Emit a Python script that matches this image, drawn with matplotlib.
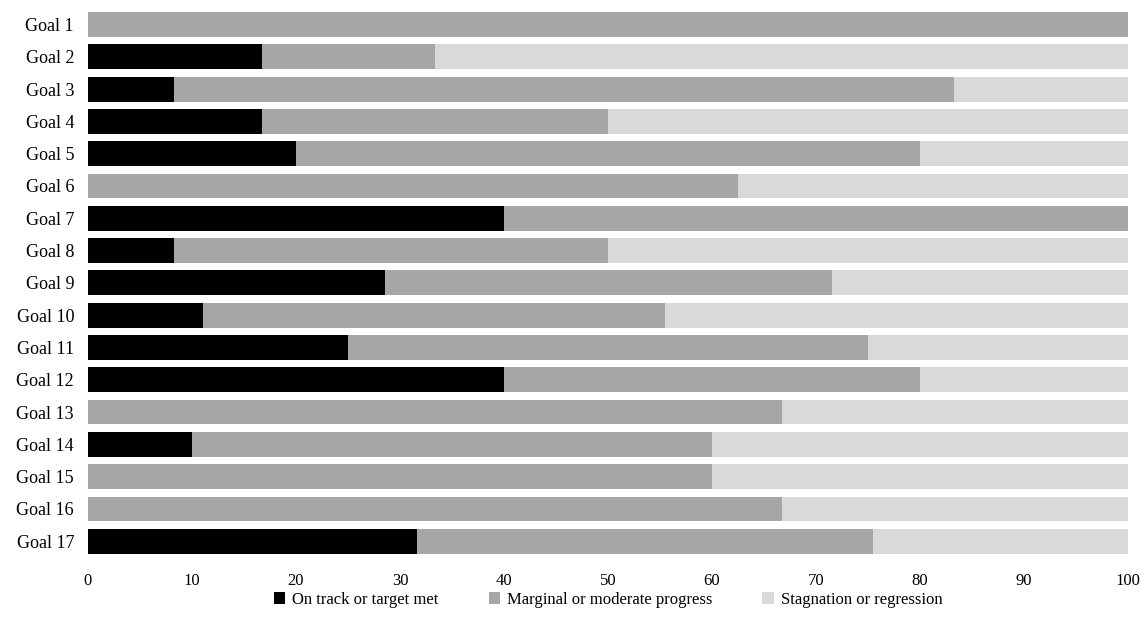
import matplotlib
matplotlib.use("Agg")
import matplotlib.pyplot as plt
from matplotlib.patches import Patch

goals = [f"Goal {i}" for i in range(1, 18)]
on_track = [0, 16.7, 8.3, 16.7, 20, 0, 40, 8.3, 28.6, 11.1, 25, 40, 0, 10, 0, 0, 31.6]
moderate = [100, 16.7, 75, 33.3, 60, 62.5, 60, 41.7, 42.9, 44.4, 50, 40, 66.7, 50, 60, 66.7, 43.9]
stagnation = [0, 66.6, 16.7, 50, 20, 37.5, 0, 50, 28.5, 44.5, 25, 20, 33.3, 40, 40, 33.3, 24.5]
series_names = ["On track or target met", "Marginal or moderate progress", "Stagnation or regression"]
xticks = list(range(0, 101, 10))

colors = ["#000000", "#a6a6a6", "#d9d9d9"]

plt.rcParams['font.family'] = ['Liberation Serif', 'DejaVu Serif']

fig = plt.figure(figsize=(11.42, 6.35), dpi=100)
ax = fig.add_axes([88 / 1142, 1 - 557.4 / 635, (1128 - 88) / 1142, (557.4 - 8.35) / 635])

y = list(range(len(goals)))
left = [0] * len(goals)
for vals, col in zip([on_track, moderate, stagnation], colors):
    ax.barh(y, vals, left=left, height=0.77, color=col, edgecolor='none')
    left = [a + b for a, b in zip(left, vals)]

ax.set_xlim(0, 100)
ax.set_ylim(16.5, -0.5)
ax.set_yticks(y)
ax.set_yticklabels(goals, fontsize=13)
ax.set_xticks(xticks)
ax.set_xticklabels([str(t) for t in xticks], fontsize=12)
ax.tick_params(axis='both', length=0)
ax.tick_params(axis='x', pad=11)
ax.tick_params(axis='y', pad=10)
for s in ax.spines.values():
    s.set_visible(False)

handles = [Patch(facecolor=c, edgecolor='none') for c in colors]
fig.legend(handles, series_names, loc='center', bbox_to_anchor=(608 / 1142, 1 - 600 / 635),
           ncol=3, frameon=False, fontsize=12, handlelength=0.7, handleheight=0.7,
           handletextpad=0.4, columnspacing=3.0)

fig.savefig("out.png", dpi=100)
